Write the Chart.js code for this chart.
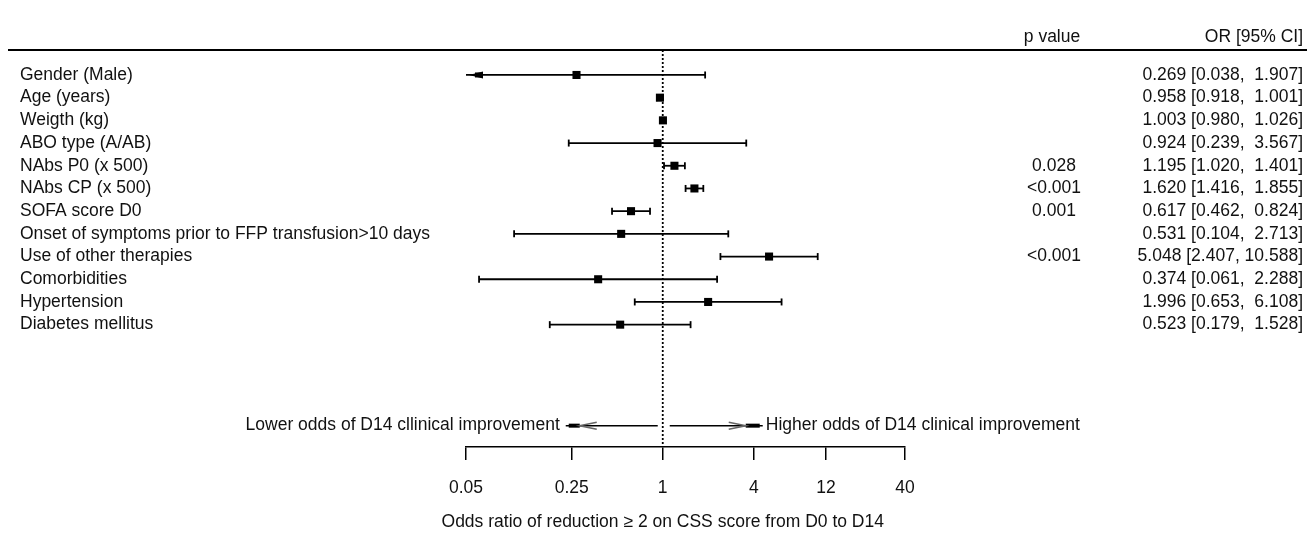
<!DOCTYPE html>
<html>
<head>
<meta charset="utf-8">
<title>Odds of D14 clinical improvement - forest plot</title>
<script src="https://cdn.jsdelivr.net/npm/chart.js@4.4.1/dist/chart.umd.min.js"></script>
<style>
  html, body { margin: 0; padding: 0; background: #fff; }
  canvas { display: block; }
</style>
</head>
<body>
<canvas id="forest" width="1307" height="536"></canvas>
<script>
// values
const categories = [
  'Gender (Male)',
  'Age (years)',
  'Weigth (kg)',
  'ABO type (A/AB)',
  'NAbs P0 (x 500)',
  'NAbs CP (x 500)',
  'SOFA score D0',
  'Onset of symptoms prior to FFP transfusion>10 days',
  'Use of other therapies',
  'Comorbidities',
  'Hypertension',
  'Diabetes mellitus'
];
const oddsRatios = [0.269, 0.958, 1.003, 0.924, 1.195, 1.620, 0.617, 0.531, 5.048, 0.374, 1.996, 0.523];
const ciLower = [0.038, 0.918, 0.980, 0.239, 1.020, 1.416, 0.462, 0.104, 2.407, 0.061, 0.653, 0.179];
const ciUpper = [1.907, 1.001, 1.026, 3.567, 1.401, 1.855, 0.824, 2.713, 10.588, 2.288, 6.108, 1.528];
const pValues = ['', '', '', '', '0.028', '<0.001', '0.001', '', '<0.001', '', '', ''];
const tickValues = [0.05, 0.25, 1, 4, 12, 40];
const tickLabels = ['0.05', '0.25', '1', '4', '12', '40'];

const FAMILY = '"Liberation Sans", Arial, sans-serif';
const FONT = '17.5px ' + FAMILY;
const ARROW_ROW = 15.45; // row slot used by the "lower / higher odds" arrows

function orText(i) {
  return oddsRatios[i].toFixed(3) + ' [' + ciLower[i].toFixed(3) + ', ' +
    ciUpper[i].toFixed(3).padStart(6, ' ') + ']';
}

const forestPlugin = {
  id: 'forest',
  beforeDatasetsDraw(chart) {
    const { ctx, chartArea, scales: { x, y } } = chart;
    const x1 = x.getPixelForValue(1);
    ctx.save();
    ctx.strokeStyle = '#000';
    ctx.fillStyle = '#000';

    // header rule
    ctx.lineWidth = 2;
    ctx.beginPath();
    ctx.moveTo(8, chartArea.top);
    ctx.lineTo(chart.width, chartArea.top);
    ctx.stroke();

    // reference line at OR = 1
    ctx.lineWidth = 1.8;
    ctx.setLineDash([2, 2]);
    ctx.beginPath();
    ctx.moveTo(x1, chartArea.top);
    ctx.lineTo(x1, chartArea.bottom);
    ctx.stroke();
    ctx.setLineDash([]);

    // confidence intervals
    categories.forEach((c, i) => {
      const yy = y.getPixelForValue(i);
      const xl = x.getPixelForValue(Math.max(ciLower[i], x.min));
      const xr = x.getPixelForValue(Math.min(ciUpper[i], x.max));
      ctx.lineWidth = 1.8;
      ctx.beginPath();
      ctx.moveTo(xl, yy);
      ctx.lineTo(xr, yy);
      ctx.stroke();
      if (ciLower[i] < x.min) {
        ctx.beginPath();
        ctx.moveTo(xl + 3, yy);
        ctx.lineTo(xl + 17, yy - 3.5);
        ctx.lineTo(xl + 17, yy + 3.5);
        ctx.closePath();
        ctx.fill();
        ctx.fillRect(xl + 9, yy - 2.5, 8, 5);
      } else {
        ctx.beginPath();
        ctx.moveTo(xl, yy - 3.5);
        ctx.lineTo(xl, yy + 3.5);
        ctx.stroke();
      }
      if (ciUpper[i] > x.max) {
        ctx.beginPath();
        ctx.moveTo(xr - 3, yy);
        ctx.lineTo(xr - 17, yy - 3.5);
        ctx.lineTo(xr - 17, yy + 3.5);
        ctx.closePath();
        ctx.fill();
      } else {
        ctx.beginPath();
        ctx.moveTo(xr, yy - 3.5);
        ctx.lineTo(xr, yy + 3.5);
        ctx.stroke();
      }
    });

    // direction arrows under the intervals
    const ay = y.getPixelForValue(ARROW_ROW);
    [-1, 1].forEach(dir => {
      const start = x1 + dir * (dir < 0 ? 5 : 7);
      const tip = x1 + dir * (dir < 0 ? 97 : 100);
      const head = x1 + dir * 83;
      ctx.strokeStyle = '#000';
      ctx.lineWidth = 1.5;
      ctx.beginPath();
      ctx.moveTo(start, ay);
      ctx.lineTo(tip, ay);
      ctx.stroke();
      ctx.lineWidth = 4;
      ctx.beginPath();
      ctx.moveTo(tip - dir * 3, ay);
      ctx.lineTo(head, ay);
      ctx.stroke();
      ctx.strokeStyle = '#666';
      ctx.lineWidth = 1.6;
      ctx.beginPath();
      ctx.moveTo(head - dir * 17, ay - 3.5);
      ctx.lineTo(head, ay);
      ctx.lineTo(head - dir * 17, ay + 3.5);
      ctx.stroke();
    });
    ctx.restore();
  },
  afterDraw(chart) {
    const { ctx, scales: { x, y } } = chart;
    const x1 = x.getPixelForValue(1);
    ctx.save();
    ctx.fillStyle = '#111';
    ctx.font = FONT;
    ctx.textBaseline = 'middle';

    // column headers
    ctx.textAlign = 'center';
    ctx.fillText('p value', 1052, 37);
    ctx.textAlign = 'right';
    ctx.fillText('OR [95% CI]', 1303, 37);

    categories.forEach((c, i) => {
      const yy = y.getPixelForValue(i);
      ctx.textAlign = 'left';
      ctx.fillText(c, 20, yy);
      ctx.textAlign = 'center';
      if (pValues[i]) ctx.fillText(pValues[i], 1054, yy);
      ctx.textAlign = 'right';
      ctx.fillText(orText(i), 1303, yy);
    });

    const ay = y.getPixelForValue(ARROW_ROW);
    ctx.textAlign = 'right';
    ctx.fillText('Lower odds of D14 cllinical improvement', x1 - 103, ay);
    ctx.textAlign = 'left';
    ctx.fillText('Higher odds of D14 clinical improvement', x1 + 103, ay);

    // axis title, centred on OR = 1
    ctx.textAlign = 'center';
    ctx.fillText('Odds ratio of reduction \u2265 2 on CSS score from D0 to D14', x1, 522);
    ctx.restore();
  }
};

new Chart(document.getElementById('forest'), {
  type: 'scatter',
  data: {
    datasets: [{
      data: oddsRatios.map((v, i) => ({ x: v, y: i })),
      pointStyle: 'rect',
      pointRadius: 5.7,
      pointHoverRadius: 5.7,
      backgroundColor: '#000',
      borderWidth: 0
    }]
  },
  options: {
    responsive: false,
    animation: false,
    devicePixelRatio: 1,
    layout: { padding: { left: 466, right: 402, top: 50, bottom: 0 } },
    plugins: { legend: { display: false }, tooltip: { enabled: false } },
    scales: {
      x: {
        type: 'logarithmic',
        position: 'bottom',
        min: 0.05,
        max: 40,
        afterBuildTicks: s => { s.ticks = tickValues.map(v => ({ value: v })); },
        afterFit: s => { s.height = 89; },
        ticks: {
          autoSkip: false,
          maxRotation: 0,
          padding: 18,
          color: '#111',
          font: { family: FAMILY, size: 17.5 },
          callback: (v, idx) => tickLabels[idx]
        },
        grid: { drawOnChartArea: false, drawTicks: true, tickLength: 13, color: '#000', lineWidth: 1.5 },
        border: { display: true, color: '#000', width: 1.5 }
      },
      y: { type: 'linear', min: -1.1, max: 16.39, reverse: true, display: false }
    }
  },
  plugins: [forestPlugin]
});
</script>
</body>
</html>
